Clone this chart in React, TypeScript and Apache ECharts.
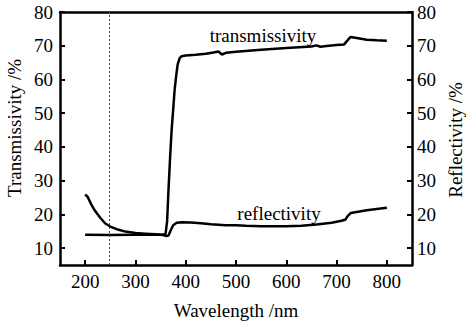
import React, { useEffect, useRef } from "react";
import * as echarts from "echarts";

const xTicks = [200, 300, 400, 500, 600, 700, 800];
const yTicks = [10, 20, 30, 40, 50, 60, 70, 80];

const transWl = [200, 250, 300, 340, 355, 360, 363, 366, 369, 372, 375, 378, 381, 384, 388, 392, 400, 420, 440, 455, 465, 472, 480, 500, 550, 600, 650, 660, 668, 680, 700, 715, 720, 728, 740, 760, 780, 800];
const transVal = [14.0, 13.9, 14.0, 14.0, 14.0, 14.3, 18, 28, 37, 45, 51, 57, 61, 64.5, 66.3, 66.9, 67.1, 67.3, 67.6, 68.0, 68.3, 67.4, 67.9, 68.2, 68.8, 69.3, 69.8, 70.1, 69.7, 69.9, 70.2, 70.4, 71.3, 72.6, 72.3, 71.8, 71.6, 71.5];

const reflWl = [200, 205, 212, 220, 230, 240, 250, 265, 280, 300, 320, 340, 355, 362, 366, 370, 375, 382, 392, 410, 430, 450, 480, 500, 520, 550, 600, 630, 660, 690, 710, 718, 722, 728, 740, 760, 780, 800];
const reflVal = [25.9, 25.2, 23, 21, 19, 17.3, 16.4, 15.5, 14.9, 14.5, 14.3, 14.1, 13.9, 13.6, 13.8, 15.2, 16.8, 17.5, 17.7, 17.6, 17.4, 17.1, 16.8, 16.8, 16.6, 16.5, 16.5, 16.6, 17.0, 17.5, 18.1, 18.5, 19.5, 20.4, 20.7, 21.2, 21.6, 22.0];

const markerWl = 247;

const FONT = "Liberation Serif";
const SIZE = 19;

export default function App() {
  const ref = useRef<HTMLDivElement>(null);
  useEffect(() => {
    if (!ref.current) return;
    const chart = echarts.init(ref.current, null, { renderer: "svg" });
    const axisLine = { show: true, lineStyle: { color: "#000", width: 2.5 } };
    const richStyle = { s: { color: "#000", fontFamily: FONT, fontSize: SIZE } };
    const label = { color: "#000", fontFamily: FONT, fontSize: SIZE, rich: richStyle };
    const xFmt = (v: number) => (xTicks.includes(v) ? `{s|${v}}` : "");
    const yFmt = (v: number) => (yTicks.includes(v) ? `{s|${v}}` : "");
    const txt = (text: string, x: number, y: number, rot: number) => ({
      type: "text",
      x,
      y,
      rotation: rot,
      style: { text, fill: "#000", fontFamily: FONT, fontSize: SIZE, align: "center", verticalAlign: "middle" },
    });
    const yAxisBase = {
      type: "value",
      min: 5,
      max: 80,
      interval: 5,
      axisLine,
      splitLine: { show: false },
      axisTick: { show: true, inside: true, length: 5, lineStyle: { width: 2, color: "#000" }, customValues: yTicks },
    };
    chart.setOption({
      animation: false,
      backgroundColor: "#fff",
      textStyle: { fontFamily: FONT, fontSize: SIZE, color: "#000" },
      grid: { left: 60, right: 54, top: 12, bottom: 53 },
      xAxis: [
        {
          type: "value",
          min: 150,
          max: 850,
          interval: 50,
          position: "bottom",
          axisLine,
          splitLine: { show: false },
          axisTick: { show: true, inside: true, length: 5, lineStyle: { width: 2, color: "#000" }, customValues: xTicks },
          axisLabel: { ...label, margin: 7, formatter: xFmt },
          name: "{s|Wavelength /nm}",
          nameLocation: "middle",
          nameGap: 36,
          nameTextStyle: { ...label },
        },
        {
          type: "value",
          min: 150,
          max: 850,
          position: "top",
          axisLine,
          splitLine: { show: false },
          axisTick: { show: false },
          axisLabel: { show: false },
        },
      ],
      yAxis: [
        { ...yAxisBase, position: "left", axisLabel: { ...label, margin: 7, formatter: yFmt } },
        { ...yAxisBase, position: "right", axisLabel: { ...label, margin: 5, formatter: yFmt } },
      ],
      graphic: [
        txt("Transmissivity /%", 14, 128, Math.PI / 2),
        txt("Reflectivity /%", 455, 140, Math.PI / 2),
        txt("transmissivity", 263, 35, 0),
        txt("reflectivity", 279, 213, 0),
      ],
      series: [
        {
          type: "line",
          name: "transmissivity",
          data: transWl.map((w, i) => [w, transVal[i]]),
          showSymbol: false,
          lineStyle: { color: "#000", width: 2.5 },
          markLine: {
            silent: true,
            symbol: "none",
            label: { show: false },
            lineStyle: { color: "#444", width: 1, type: [2, 2] },
            data: [{ xAxis: markerWl }],
          },
        },
        {
          type: "line",
          name: "reflectivity",
          data: reflWl.map((w, i) => [w, reflVal[i]]),
          showSymbol: false,
          lineStyle: { color: "#000", width: 2.5 },
        },
      ],
    });
    return () => chart.dispose();
  }, []);
  return <div ref={ref} style={{ width: 466, height: 325, position: "absolute", left: 0, top: 0 }} />;
}
